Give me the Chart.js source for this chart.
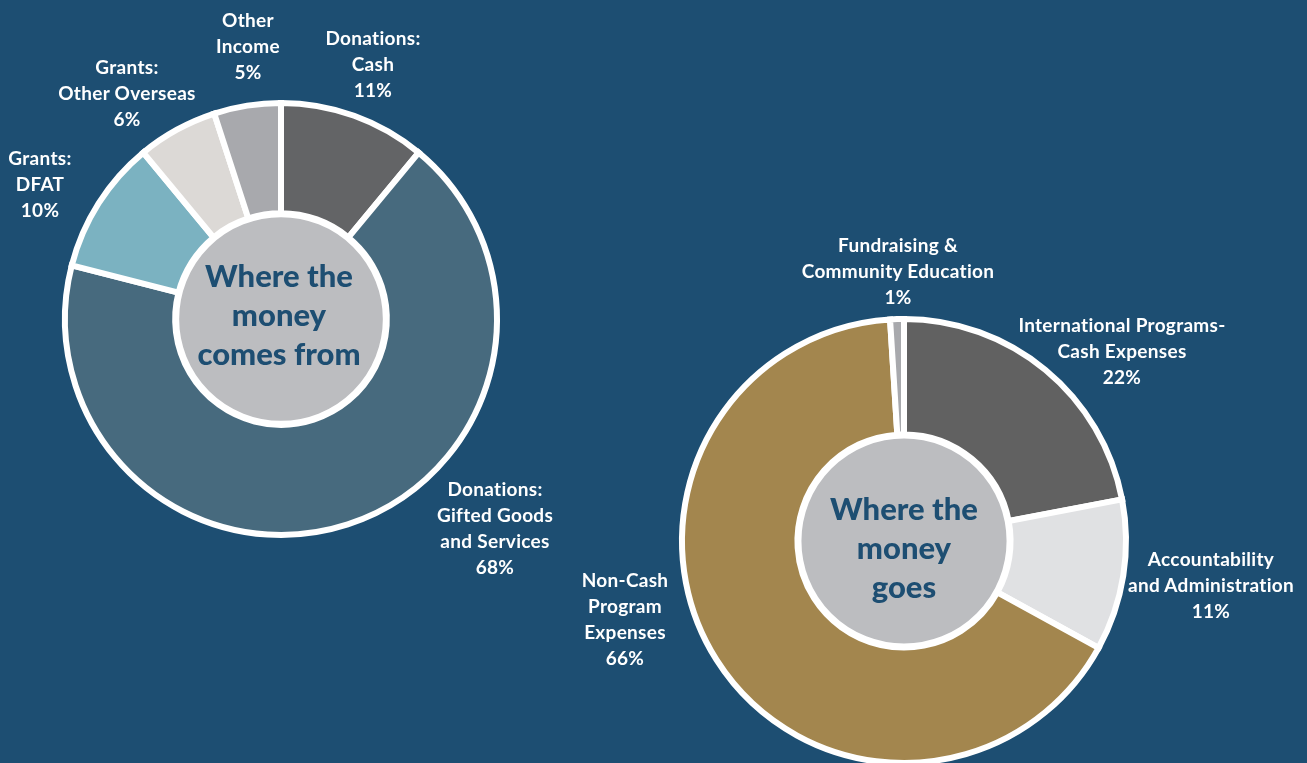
<!DOCTYPE html>
<html>
<head>
<meta charset="utf-8">
<script src="https://cdn.jsdelivr.net/npm/chart.js@4"></script>
<style>
  html, body { margin:0; padding:0; width:1307px; height:763px; overflow:hidden; background:#1d4e72; }
  body { position:relative; font-family: Lato, "Open Sans", sans-serif; font-variant-ligatures:none; }
  canvas { position:absolute; }
  #cIncome { left:0; top:0; }
  #cExpense { left:604px; top:241px; }
  .lbl { position:absolute; color:#fff; font-weight:700; font-size:19px; letter-spacing:0.3px; line-height:26px; text-align:center; white-space:nowrap; transform:translateX(-50%); }
  .ctr { position:absolute; color:#1d4e72; font-weight:900; font-size:31px; line-height:39px; text-align:center; white-space:nowrap; transform:translateX(-50%); }
</style>
</head>
<body>
<canvas id="cIncome" width="562" height="638"></canvas>
<canvas id="cExpense" width="600" height="600"></canvas>
<script>
// ---- data ----
const incomeCategories = ['Donations: Cash', 'Donations: Gifted Goods and Services', 'Grants: DFAT', 'Grants: Other Overseas', 'Other Income'];
const incomeLabelLines = [['Donations:', 'Cash'], ['Donations:', 'Gifted Goods', 'and Services'], ['Grants:', 'DFAT'], ['Grants:', 'Other Overseas'], ['Other', 'Income']];
const incomeValues = [11, 68, 10, 6, 5];
const incomeTitle = ['Where the', 'money', 'comes from'];

const expenseCategories = ['International Programs- Cash Expenses', 'Accountability and Administration', 'Non-Cash Program Expenses', 'Fundraising & Community Education'];
const expenseLabelLines = [['International Programs-', 'Cash Expenses'], ['Accountability', 'and Administration'], ['Non-Cash', 'Program', 'Expenses'], ['Fundraising &', 'Community Education']];
const expenseValues = [22, 11, 66, 1];
const expenseTitle = ['Where the', 'money', 'goes'];

// ---- styles / layout ----
const incomeColors = ['#636466', '#476a7e', '#7bb2c1', '#dcd9d6', '#a8a9ad'];
const expenseColors = ['#616161', '#e0e1e3', '#a3864e', '#a8a9ad'];
const incomeLabelPos = [[373, 38], [495, 489], [40, 158], [127, 67], [248, 20]];
const expenseLabelPos = [[1122, 325], [1211, 559], [625, 580], [898, 245]];

const centerCircle = {
  id: 'centerCircle',
  afterDatasetsDraw(chart) {
    const meta = chart.getDatasetMeta(0);
    const arc = meta.data[0];
    if (!arc) return;
    const ctx = chart.ctx;
    const r = arc.innerRadius + 2;
    ctx.save();
    ctx.beginPath();
    ctx.arc(arc.x, arc.y, r - 3, 0, Math.PI * 2);
    ctx.fillStyle = '#bcbdc0';
    ctx.fill();
    ctx.lineWidth = 6;
    ctx.strokeStyle = '#ffffff';
    ctx.stroke();
    ctx.restore();
  }
};

function makeChart(id, cats, values, colors, radius, cutout) {
  return new Chart(document.getElementById(id), {
    type: 'doughnut',
    data: {
      labels: cats,
      datasets: [{ data: values, backgroundColor: colors, borderColor: '#ffffff', borderWidth: 6, borderJoinStyle: 'miter' }]
    },
    options: {
      responsive: false,
      animation: false,
      radius: radius,
      cutout: cutout,
      layout: { padding: 0 },
      plugins: { legend: { display: false }, tooltip: { enabled: false } }
    },
    plugins: [centerCircle]
  });
}

makeChart('cIncome', incomeCategories, incomeValues, incomeColors, 216, '49%');
makeChart('cExpense', expenseCategories, expenseValues, expenseColors, 222, '48%');

function addLabels(lines, values, pos) {
  lines.forEach((ls, i) => {
    const d = document.createElement('div');
    d.className = 'lbl';
    d.style.left = pos[i][0] + 'px';
    d.style.top = (pos[i][1] - 13) + 'px';
    d.innerHTML = ls.concat([values[i] + '%']).map(s => s.replace(/&/g, '&amp;')).join('<br>');
    document.body.appendChild(d);
  });
}
addLabels(incomeLabelLines, incomeValues, incomeLabelPos);
addLabels(expenseLabelLines, expenseValues, expenseLabelPos);

function addTitle(lines, x, y) {
  const d = document.createElement('div');
  d.className = 'ctr';
  d.style.left = x + 'px';
  d.style.top = (y - 19.5) + 'px';
  d.innerHTML = lines.join('<br>');
  document.body.appendChild(d);
}
addTitle(incomeTitle, 279, 275);
addTitle(expenseTitle, 904, 508);
</script>
</body>
</html>
